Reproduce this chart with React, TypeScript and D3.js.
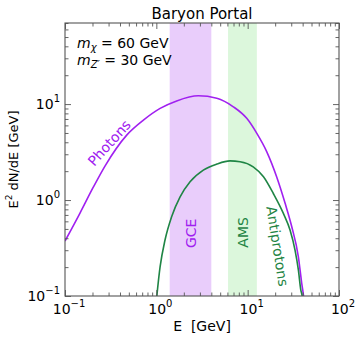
import { useRef, useEffect } from 'react';
import * as d3 from 'd3';

// photon spectrum
const photonE = [0.1, 0.146, 0.204, 0.274, 0.474, 0.722, 1.1, 1.67, 2.88, 4.59, 6.97, 9.77, 12.6, 16.2, 20.8, 25.7, 30.4, 35.9, 39.1, 40.9, 41.8];
const photonFlux = [0.374, 0.732, 1.36, 2.26, 4.75, 6.81, 9.02, 10.8, 12.2, 11.5, 9.37, 7.1, 4.95, 3.18, 1.74, 0.925, 0.527, 0.256, 0.135, 0.1, 0.08];

// antiproton spectrum
const antiE = [0.995, 1.1, 1.245, 1.47, 1.82, 2.34, 3.27, 4.59, 6.41, 8.26, 11.5, 14.9, 19.1, 24.6, 29.1, 33.0, 35.9, 38.2, 39.5, 40.5];
const antiFlux = [0.085, 0.202, 0.383, 0.67, 1.08, 1.55, 2.05, 2.37, 2.56, 2.51, 2.22, 1.75, 1.17, 0.726, 0.487, 0.301, 0.187, 0.115, 0.1, 0.08];

// shaded energy windows
const gceBand = [1.4, 4.0];
const amsBand = [6.1, 12.6];

const xDomain = [0.1, 100];
const yDomain = [0.1, 70];
const xMajor = [0.1, 1, 10, 100];
const yMajor = [0.1, 1, 10];

const PURPLE = '#a020f0';
const GREEN = '#1f8545';
const FONT = 'DejaVu Sans, sans-serif';

function App() {
    const svgRef = useRef(null);

    useEffect(() => {
        const width = 358;
        const height = 339;
        const m = { left: 65, right: 19, top: 23, bottom: 43 };
        const iw = width - m.left - m.right;
        const ih = height - m.top - m.bottom;

        const svg = d3.select(svgRef.current);
        svg.selectAll('*').remove();

        const x = d3.scaleLog().domain(xDomain).range([0, iw]);
        const y = d3.scaleLog().domain(yDomain).range([ih, 0]);

        const g = svg.append('g').attr('transform', `translate(${m.left},${m.top})`);

        g.append('clipPath').attr('id', 'plotclip')
            .append('rect').attr('width', iw).attr('height', ih);

        //bands
        g.append('rect')
            .attr('x', x(gceBand[0])).attr('y', 0)
            .attr('width', x(gceBand[1]) - x(gceBand[0])).attr('height', ih)
            .attr('fill', '#e9cdfb');
        g.append('rect')
            .attr('x', x(amsBand[0])).attr('y', 0)
            .attr('width', x(amsBand[1]) - x(amsBand[0])).attr('height', ih)
            .attr('fill', '#dcf7dc');

        //curves
        const line = d3.line()
            .x(d => x(d[0]))
            .y(d => y(d[1]))
            .curve(d3.curveMonotoneX);

        const plot = g.append('g').attr('clip-path', 'url(#plotclip)');
        plot.append('path')
            .datum(photonE.map((e, i) => [e, photonFlux[i]]))
            .attr('d', line)
            .attr('fill', 'none')
            .attr('stroke', PURPLE)
            .attr('stroke-width', 1.6);
        plot.append('path')
            .datum(antiE.map((e, i) => [e, antiFlux[i]]))
            .attr('d', line)
            .attr('fill', 'none')
            .attr('stroke', GREEN)
            .attr('stroke-width', 1.6);

        //axes with inward ticks on all four sides
        const xMinor = x.ticks().filter(t => !xMajor.some(v => Math.abs(v - t) / v < 1e-6));
        const yMinor = y.ticks().filter(t => !yMajor.some(v => Math.abs(v - t) / v < 1e-6));

        const drawAxis = (axisFn, scale, major, minor, transform) => {
            const a = g.append('g').attr('transform', transform);
            a.call(axisFn(scale).tickValues(major).tickSize(-6).tickSizeOuter(0).tickFormat(() => ''));
            a.call(s => s.select('.domain').remove());
            const b = g.append('g').attr('transform', transform);
            b.call(axisFn(scale).tickValues(minor).tickSize(-3.5).tickSizeOuter(0).tickFormat(() => ''));
            b.call(s => s.select('.domain').remove());
            [a, b].forEach(s => s.selectAll('line').attr('stroke', '#555').attr('stroke-width', 0.9));
        };
        drawAxis(d3.axisBottom, x, xMajor, xMinor, `translate(0,${ih})`);
        drawAxis(d3.axisTop, x, xMajor, xMinor, 'translate(0,0)');
        drawAxis(d3.axisLeft, y, yMajor, yMinor, 'translate(0,0)');
        drawAxis(d3.axisRight, y, yMajor, yMinor, `translate(${iw},0)`);

        g.append('rect')
            .attr('width', iw).attr('height', ih)
            .attr('fill', 'none').attr('stroke', '#555').attr('stroke-width', 1.1);

        //tick labels as powers of ten
        const powLabel = (sel, v) => {
            const exp = Math.round(Math.log10(v));
            sel.append('tspan').text('10');
            sel.append('tspan')
                .attr('font-size', 10)
                .attr('dy', -7)
                .text(exp < 0 ? `\u2212${-exp}` : `${exp}`);
        };
        xMajor.forEach(v => {
            const t = g.append('text')
                .attr('x', x(v) + 4).attr('y', ih + 18)
                .attr('text-anchor', 'middle')
                .attr('font-family', FONT).attr('font-size', 14).attr('fill', '#000');
            powLabel(t, v);
        });
        yMajor.forEach(v => {
            const t = g.append('text')
                .attr('x', -5).attr('y', y(v) + 5)
                .attr('text-anchor', 'end')
                .attr('font-family', FONT).attr('font-size', 14).attr('fill', '#000');
            powLabel(t, v);
        });

        //axis titles
        svg.append('text')
            .attr('x', m.left + iw / 2).attr('y', 19)
            .attr('text-anchor', 'middle')
            .attr('font-family', FONT).attr('font-size', 15).attr('fill', '#000')
            .text('Baryon Portal');

        svg.append('text')
            .attr('x', m.left + iw / 2).attr('y', 331)
            .attr('text-anchor', 'middle')
            .attr('font-family', FONT).attr('font-size', 14).attr('fill', '#000')
            .attr('xml:space', 'preserve')
            .style('white-space', 'pre')
            .text('E  [GeV]');

        const yl = svg.append('text')
            .attr('transform', `translate(18,${m.top + ih / 2}) rotate(-90)`)
            .attr('text-anchor', 'middle')
            .attr('font-family', FONT).attr('font-size', 13).attr('fill', '#000');
        yl.append('tspan').text('E');
        yl.append('tspan').attr('font-size', 9).attr('dy', -6).text('2');
        yl.append('tspan').attr('dy', 6).text(' dN/dE [GeV]');

        //mass annotations
        const ann = (yy, sub, subDy) => {
            const t = g.append('text')
                .attr('x', 12).attr('y', yy)
                .attr('font-family', FONT).attr('font-size', 14).attr('fill', '#000');
            t.append('tspan').attr('font-style', 'italic').text('m');
            t.append('tspan').attr('font-style', 'italic').attr('font-size', 10).attr('dy', subDy).text(sub[0]);
            t.append('tspan').attr('dy', -subDy).text(sub[1]);
        };
        ann(25, ['\u03c7', ' = 60 GeV'], 3);
        ann(42, ['Z\u2032', ' = 30 GeV'], 3);

        //curve and band labels
        const label = (xx, yy, rot, text, color) => {
            g.append('text')
                .attr('transform', `translate(${xx},${yy}) rotate(${rot})`)
                .attr('text-anchor', 'middle')
                .attr('dominant-baseline', 'central')
                .attr('font-family', FONT).attr('font-size', 14).attr('fill', color)
                .text(text);
        };
        label(x(0.305), y(3.95), -48, 'Photons', PURPLE);
        label(x(2.37), y(0.45), -90, 'GCE', PURPLE);
        label(x(8.8), y(0.46), -90, 'AMS', GREEN);
        label(x(21.2), y(0.33), 81, 'Antiprotons', GREEN);
    }, []);

    return <svg ref={svgRef} width={358} height={339} style={{ position: 'absolute', left: 0, top: 0, background: '#fff' }} />;
}

export default App;
